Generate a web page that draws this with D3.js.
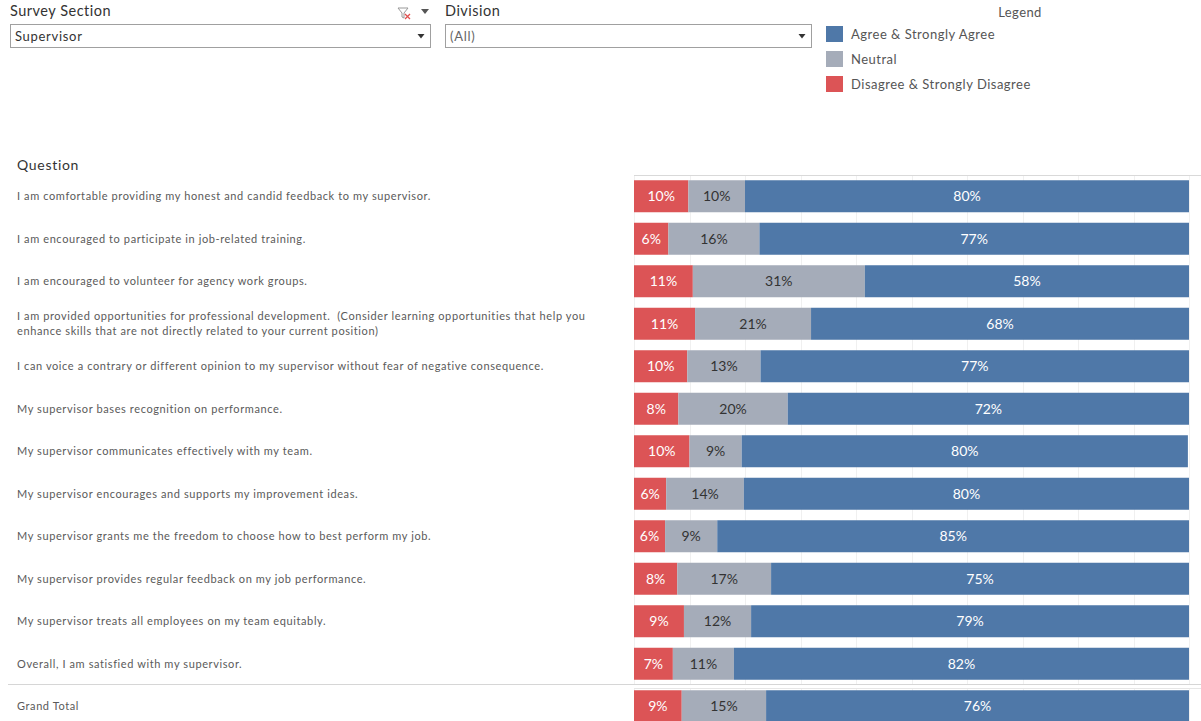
<!DOCTYPE html>
<html>
<head>
<meta charset="utf-8">
<script src="https://cdn.jsdelivr.net/npm/d3@7"></script>
<style>
  html, body { margin: 0; padding: 0; background: #fff; }
  svg { display: block; font-family: Lato, "Open Sans", sans-serif; }
  svg text { white-space: pre; }
</style>
</head>
<body>
<svg id="chart" width="1201" height="721"></svg>
<script>
// ---------------- data ----------------
const questions = [
  ["I am comfortable providing my honest and candid feedback to my supervisor."],
  ["I am encouraged to participate in job-related training."],
  ["I am encouraged to volunteer for agency work groups."],
  ["I am provided opportunities for professional development.  (Consider learning opportunities that help you", "enhance skills that are not directly related to your current position)"],
  ["I can voice a contrary or different opinion to my supervisor without fear of negative consequence."],
  ["My supervisor bases recognition on performance."],
  ["My supervisor communicates effectively with my team."],
  ["My supervisor encourages and supports my improvement ideas."],
  ["My supervisor grants me the freedom to choose how to best perform my job."],
  ["My supervisor provides regular feedback on my job performance."],
  ["My supervisor treats all employees on my team equitably."],
  ["Overall, I am satisfied with my supervisor."]
];
const disagree = [9.8, 6.2, 10.6, 11.0, 9.6, 8.0, 10.0, 5.8, 5.6, 7.8, 9.0, 7.0];
const neutral  = [10.2, 16.4, 31.0, 20.9, 13.2, 19.7, 9.4, 14.0, 9.4, 16.9, 12.1, 11.0];
const agree    = [80.0, 77.4, 58.4, 68.1, 77.2, 72.3, 80.4, 80.2, 85.0, 75.3, 78.9, 82.0];
const totalLabel = ["Grand Total"];
const totalValues = [8.6, 15.2, 76.2]; // disagree, neutral, agree

const seriesNames = ["Disagree & Strongly Disagree", "Neutral", "Agree & Strongly Agree"];
const legendOrder = ["Agree & Strongly Agree", "Neutral", "Disagree & Strongly Disagree"];
const gridTicks = [0, 10, 20, 30, 40, 50, 60, 70, 80, 90, 100];

// ---------------- setup ----------------
const colors = {
  "Agree & Strongly Agree": "#4f78a8",
  "Neutral": "#a5acb9",
  "Disagree & Strongly Disagree": "#dc5456"
};
const textOn = {
  "Agree & Strongly Agree": "#ffffff",
  "Neutral": "#333333",
  "Disagree & Strongly Disagree": "#ffffff"
};

const svg = d3.select("#chart");

const rows = questions.map((q, i) => ({
  label: q, vals: [disagree[i], neutral[i], agree[i]]
}));
const totalRow = { label: totalLabel, vals: totalValues };

const x = d3.scaleLinear().domain([0, 100]).range([634, 1189]);
const y = d3.scaleBand().domain(d3.range(rows.length)).range([175, 685]).paddingInner(0.247).paddingOuter(0.1235);
const yTotal = d3.scaleBand().domain([0]).range([685, 727.5]).paddingInner(0.247).paddingOuter(0.1235);

// ---------------- filters ----------------
function dropdown(x0, w, title, value, valueColor) {
  const g = svg.append("g");
  g.append("text").attr("x", x0).attr("y", 16).attr("font-size", 14.5).attr("letter-spacing", 0.5).attr("fill", "#333").text(title);
  g.append("rect").attr("x", x0 + 0.5).attr("y", 24.5).attr("width", w).attr("height", 23)
    .attr("fill", "#fff").attr("stroke", "#a0a0a0");
  g.append("text").attr("x", x0 + 5).attr("y", 41).attr("font-size", 13).attr("letter-spacing", 0.7).attr("fill", valueColor).text(value);
  const ax = x0 + w - 9;
  g.append("path").attr("d", `M${ax - 3.5},34 L${ax + 3.5},34 L${ax},38.5 Z`).attr("fill", "#333");
}
dropdown(10, 420, "Survey Section", "Supervisor", "#333");
dropdown(445, 366, "Division", "(All)", "#666");

// filter clear icon + menu arrow
svg.append("path").attr("d", "M398,8 L408,8 L404,13 L404,18 L402,17 L402,13 Z").attr("fill", "none").attr("stroke", "#999").attr("stroke-width", 1);
svg.append("path").attr("d", "M405,14 L410,19 M410,14 L405,19").attr("stroke", "#e0504f").attr("stroke-width", 1.3);
svg.append("path").attr("d", "M421,9 L429,9 L425,14 Z").attr("fill", "#555");

// ---------------- legend ----------------
const lg = svg.append("g");
lg.append("text").attr("x", 1020).attr("y", 17).attr("text-anchor", "middle").attr("font-size", 13).attr("letter-spacing", 0.4).attr("fill", "#555").text("Legend");
legendOrder.forEach((name, i) => {
  lg.append("rect").attr("x", 826).attr("y", 26 + i * 25).attr("width", 17).attr("height", 16).attr("fill", colors[name]);
  lg.append("text").attr("x", 851).attr("y", 39 + i * 25).attr("font-size", 13).attr("letter-spacing", 0.5).attr("fill", "#555").text(name);
});

// ---------------- header ----------------
svg.append("text").attr("x", 17).attr("y", 170).attr("font-size", 14).attr("letter-spacing", 0.7).attr("fill", "#333").text("Question");

// pane top border
svg.append("line").attr("x1", 634).attr("x2", 1201).attr("y1", 175.5).attr("y2", 175.5).attr("stroke", "#d9d9d9");

// gridlines
const gridG = svg.append("g");
gridG.selectAll("line.g1").data(gridTicks).join("line")
  .attr("x1", d => Math.round(x(d)) + 0.5).attr("x2", d => Math.round(x(d)) + 0.5)
  .attr("y1", 176).attr("y2", 684).attr("stroke", "#f0f0f0");
gridG.selectAll("line.g2").data(gridTicks).join("line")
  .attr("x1", d => Math.round(x(d)) + 0.5).attr("x2", d => Math.round(x(d)) + 0.5)
  .attr("y1", 689).attr("y2", 721).attr("stroke", "#f0f0f0");

// separator before grand total
svg.append("line").attr("x1", 8).attr("x2", 1201).attr("y1", 684.5).attr("y2", 684.5).attr("stroke", "#d6d6d6");
svg.append("line").attr("x1", 634).attr("x2", 1201).attr("y1", 688.5).attr("y2", 688.5).attr("stroke", "#e6e6e6");

// ---------------- bars ----------------
function drawRow(g, row, yc, bh) {
  const lines = row.label;
  const lh = 15;
  lines.forEach((t, k) => {
    g.append("text").attr("x", 17).attr("y", yc + 4 + (k - (lines.length - 1) / 2) * lh)
      .attr("font-size", 11).attr("letter-spacing", 0.6).attr("fill", "#5a5a5a").text(t);
  });
  let cum = 0;
  const segs = row.vals.map((v, k) => { const s = { name: seriesNames[k], v, x0: cum, x1: cum + v }; cum += v; return s; });
  g.selectAll("rect.seg").data(segs).join("rect").attr("class", "seg")
    .attr("x", d => x(d.x0)).attr("width", d => x(d.x1) - x(d.x0))
    .attr("y", yc - bh / 2).attr("height", bh)
    .attr("fill", d => colors[d.name]);
  g.selectAll("text.pct").data(segs).join("text").attr("class", "pct")
    .attr("x", d => (x(d.x0) + x(d.x1)) / 2).attr("y", yc + 5)
    .attr("text-anchor", "middle").attr("font-size", 14)
    .attr("fill", d => textOn[d.name])
    .text(d => Math.round(d.v) + "%");
}

rows.forEach((r, i) => {
  const g = svg.append("g");
  drawRow(g, r, y(i) + y.bandwidth() / 2, y.bandwidth());
});
drawRow(svg.append("g"), totalRow, yTotal(0) + yTotal.bandwidth() / 2, yTotal.bandwidth());
</script>
</body>
</html>
